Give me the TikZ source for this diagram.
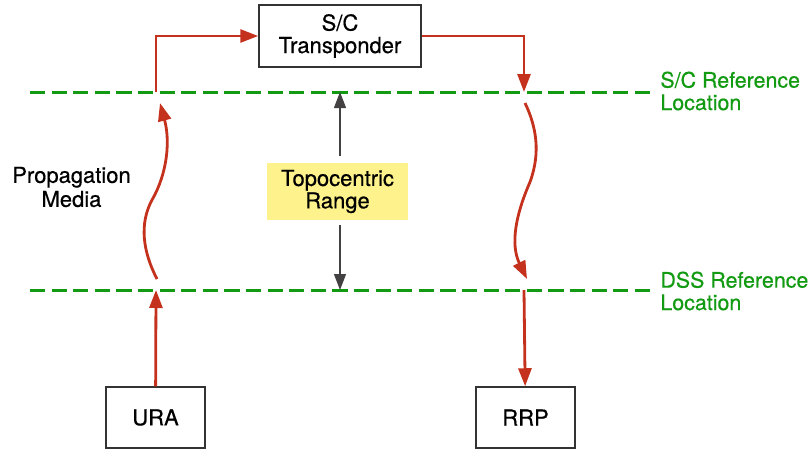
\documentclass[tikz,border=0pt]{standalone}
\usepackage{fontspec}
\setmainfont{TeX Gyre Heros}[BoldFont=TeX Gyre Heros, BoldFeatures={FakeBold=0.5}]
\usetikzlibrary{arrows.meta}
\usetikzlibrary{calc}
\usetikzlibrary{positioning}
\usepackage{xcolor}
\definecolor{sigred}{HTML}{C4321E}
\definecolor{refgreen}{HTML}{129A12}
\definecolor{rangeyellow}{HTML}{FDF28C}
\definecolor{tipblack}{HTML}{231F20}

\tikzset{
  every node/.style={font=\fontsize{11}{11.2}\selectfont\bfseries},
  unit/.style={draw=black!80, line width=0.75pt, minimum width=49.5pt, minimum height=30.5pt,
    align=center},
  sig/.style={sigred, line width=1.4pt, -{Triangle[length=9pt,width=6.5pt]}},
  rng/.style={tipblack!85, line width=0.6pt, -{Triangle[length=8pt,width=6pt]}},
  refline/.style={refgreen, line width=1.5pt, dash pattern=on 7.6pt off 3.2pt},
  reflabel/.style={anchor=west, text=refgreen, align=left, inner sep=4pt,
    font=\fontsize{10.7}{11.2}\selectfont\bfseries}
}

\begin{document}
\begin{tikzpicture}[x=0.5pt,y=-0.5pt]

        \useasboundingbox (0,0) rectangle (812,450);

        % Boxes
        \node[unit, minimum width=81pt, minimum height=31pt] (sc) at (340,36) {S/C\\Transponder};
        \node[unit] (ura) at (155.5,417.5) {URA};
        \node[unit] (rrp) at (525.5,417.5) {RRP};
        \node[fill=rangeyellow, minimum width=70.5pt, minimum height=26.5pt, align=center] (range)
          at (337.5,191.5) {Topocentric\\Range};
        \node[align=center, font=\fontsize{11}{12}\selectfont\bfseries] (media) at (71.5,187) {Propagation\\Media};

        % Reference lines
        \node[reflabel] (scref) at (652,91) {S/C Reference\\Location};
        \node[reflabel] (dssref) at (652,291) {DSS Reference\\Location};
        \coordinate (scL) at (30,92);
        \coordinate (dssL) at (30,290);
        \draw[refline] (scL) -- (scL -| scref.west);
        \draw[refline] (dssL) -- (dssL -| dssref.west);

        \coordinate (upA) at (156,92);
        \coordinate (dnA) at (156,290);
        \coordinate (upB) at (524,92);
        \coordinate (dnB) at (524,290);

        % Uplink
        \draw[sig] (ura) -- (dnA);
        \draw[sig] (157,279) .. controls (143,252) and (139,224) .. (152,200)
                             .. controls (168,172) and (170,140) .. (160,103);
        \draw[sig] (upA) |- (sc.west);

        % Downlink
        \draw[sig] (sc.east) -| (upB);
        \draw[sig] (525,103) .. controls (536,126) and (541,152) .. (530,182)
                             .. controls (516,214) and (510,244) .. (527,279);
        \draw[sig] (dnB) -- (rrp);

        % Range
        \coordinate (rTop) at (340,92);
        \coordinate (rBot) at (340,290);
        \draw[rng, shorten <=3.5pt] (range.north -| rTop) -- (rTop);
        \draw[rng, shorten <=2.5pt] (range.south -| rBot) -- (rBot);
    \end{tikzpicture}
\end{document}
